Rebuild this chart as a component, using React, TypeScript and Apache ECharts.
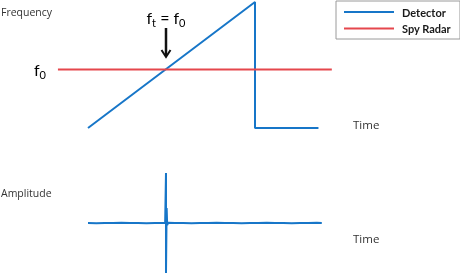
import React, { useEffect, useRef } from "react";
import * as echarts from "echarts";

// Top panel: frequency (normalized) vs time (ms)
const detectorTime = [0, 1, 1, 1.38];
const detectorFreq = [0, 1, 0, 0];
const radarTime = [-0.18, 1.46];
const radarFreq = [0.464, 0.464];

// Bottom panel: amplitude vs time
const ampTime = [0, 0.05, 0.1, 0.15, 0.2, 0.25, 0.3, 0.35, 0.4, 0.44, 0.462, 0.467, 0.467, 0.471, 0.474, 0.48, 0.52, 0.57, 0.62, 0.67, 0.72, 0.77, 0.82, 0.87, 0.92, 0.97, 1.02, 1.07, 1.12, 1.17, 1.22, 1.27, 1.32, 1.37, 1.4];
const ampValue = [0.002, -0.003, 0.002, -0.002, 0.003, -0.002, 0.002, -0.003, 0.002, -0.002, 0.003, 1, -1, 0.3, -0.04, 0.003, -0.002, 0.002, -0.003, 0.002, -0.002, 0.003, -0.002, 0.002, -0.003, 0.002, -0.002, 0.003, -0.002, 0.002, -0.003, 0.002, -0.002, 0.003, 0.0];

const seriesNames = ["Detector", "Spy Radar"];
const axisLabels = { freq: "Frequency", amp: "Amplitude", time: "Time" };

const BLUE = "#1776C8";
const RED = "#E5474D";

const X_MIN = -0.2;
const X_MAX = 1.5;
const PX_PER_T = 167;
const T0_PX = 88;

export default function App() {
  const ref = useRef<HTMLDivElement>(null);
  useEffect(() => {
    document.body.style.margin = "0";
    const chart = echarts.init(ref.current!, null, { renderer: "svg" });
    const gridLeft = T0_PX + X_MIN * PX_PER_T;
    const gridWidth = (X_MAX - X_MIN) * PX_PER_T;
    const zip = (a: number[], b: number[]) => a.map((v, i) => [v, b[i]]);
    const sub = {
      m: { fontSize: 16, fontFamily: "Lato", color: "#111", lineHeight: 22 },
      s: { fontSize: 11, fontFamily: "Lato", color: "#111", lineHeight: 11, verticalAlign: "bottom" },
    };
    const lineIcon = "path://M0,0L50,0L50,2L0,2Z";
    chart.setOption({
      animation: false,
      grid: [
        { left: gridLeft, width: gridWidth, top: 2, height: 126 },
        { left: gridLeft, width: gridWidth, top: 173, height: 100 },
      ],
      xAxis: [0, 1].map((g) => ({
        type: "value",
        gridIndex: g,
        min: X_MIN,
        max: X_MAX,
        show: false,
      })),
      yAxis: [
        { type: "value", gridIndex: 0, min: 0, max: 1, show: false },
        { type: "value", gridIndex: 1, min: -1, max: 1, show: false },
      ],
      legend: {
        data: seriesNames.map((n) => ({ name: n, icon: lineIcon })),
        orient: "vertical",
        left: 336,
        top: 1,
        padding: [4.5, 9, 4, 8],
        itemGap: 3.5,
        itemWidth: 50,
        itemHeight: 2.5,
        borderColor: "#9a9a9a",
        borderWidth: 1,
        textStyle: {
          color: "#1a1a1a",
          fontFamily: "Lato",
          fontWeight: "bold",
          fontSize: 11,
          lineHeight: 13,
          padding: [0, 0, 0, 3],
        },
      },
      series: [
        {
          name: seriesNames[0],
          type: "line",
          xAxisIndex: 0,
          yAxisIndex: 0,
          data: zip(detectorTime, detectorFreq),
          symbol: "none",
          lineStyle: { color: BLUE, width: 2 },
          itemStyle: { color: BLUE },
        },
        {
          name: seriesNames[1],
          type: "line",
          xAxisIndex: 0,
          yAxisIndex: 0,
          data: zip(radarTime, radarFreq),
          symbol: "none",
          lineStyle: { color: RED, width: 2 },
          itemStyle: { color: RED },
        },
        {
          name: seriesNames[0],
          type: "line",
          xAxisIndex: 1,
          yAxisIndex: 1,
          data: zip(ampTime, ampValue),
          symbol: "none",
          lineStyle: { color: BLUE, width: 2 },
          itemStyle: { color: BLUE },
        },
      ],
      graphic: [
        { type: "text", x: 1, y: 12, style: { text: axisLabels.freq, fontFamily: "Open Sans", fontSize: 10.5, fill: "#333", verticalAlign: "middle" } },
        { type: "text", x: 1, y: 193, style: { text: axisLabels.amp, fontFamily: "Open Sans", fontSize: 10.5, fill: "#333", verticalAlign: "middle" } },
        { type: "text", x: 353, y: 124, style: { text: axisLabels.time, fontFamily: "Open Sans", fontSize: 11.5, fill: "#333", verticalAlign: "middle" } },
        { type: "text", x: 353, y: 238, style: { text: axisLabels.time, fontFamily: "Open Sans", fontSize: 11.5, fill: "#333", verticalAlign: "middle" } },
        {
          type: "text",
          x: 166,
          y: 17,
          style: { text: "{m|f}{s|t}{m| = f}{s|0}", rich: sub, align: "center", verticalAlign: "middle" },
        },
        {
          type: "text",
          x: 40,
          y: 69,
          style: { text: "{m|f}{s|0}", rich: sub, align: "center", verticalAlign: "middle" },
        },
        { type: "line", shape: { x1: 166, y1: 28, x2: 166, y2: 55 }, style: { stroke: "#111", lineWidth: 2.5 } },
        { type: "polyline", shape: { points: [[161.5, 50], [166, 57], [170.5, 50]] }, style: { stroke: "#111", lineWidth: 2, fill: null } },
      ],
    });
    return () => chart.dispose();
  }, []);
  return <div ref={ref} style={{ position: "fixed", left: 0, top: 0, width: 460, height: 277 }} />;
}
